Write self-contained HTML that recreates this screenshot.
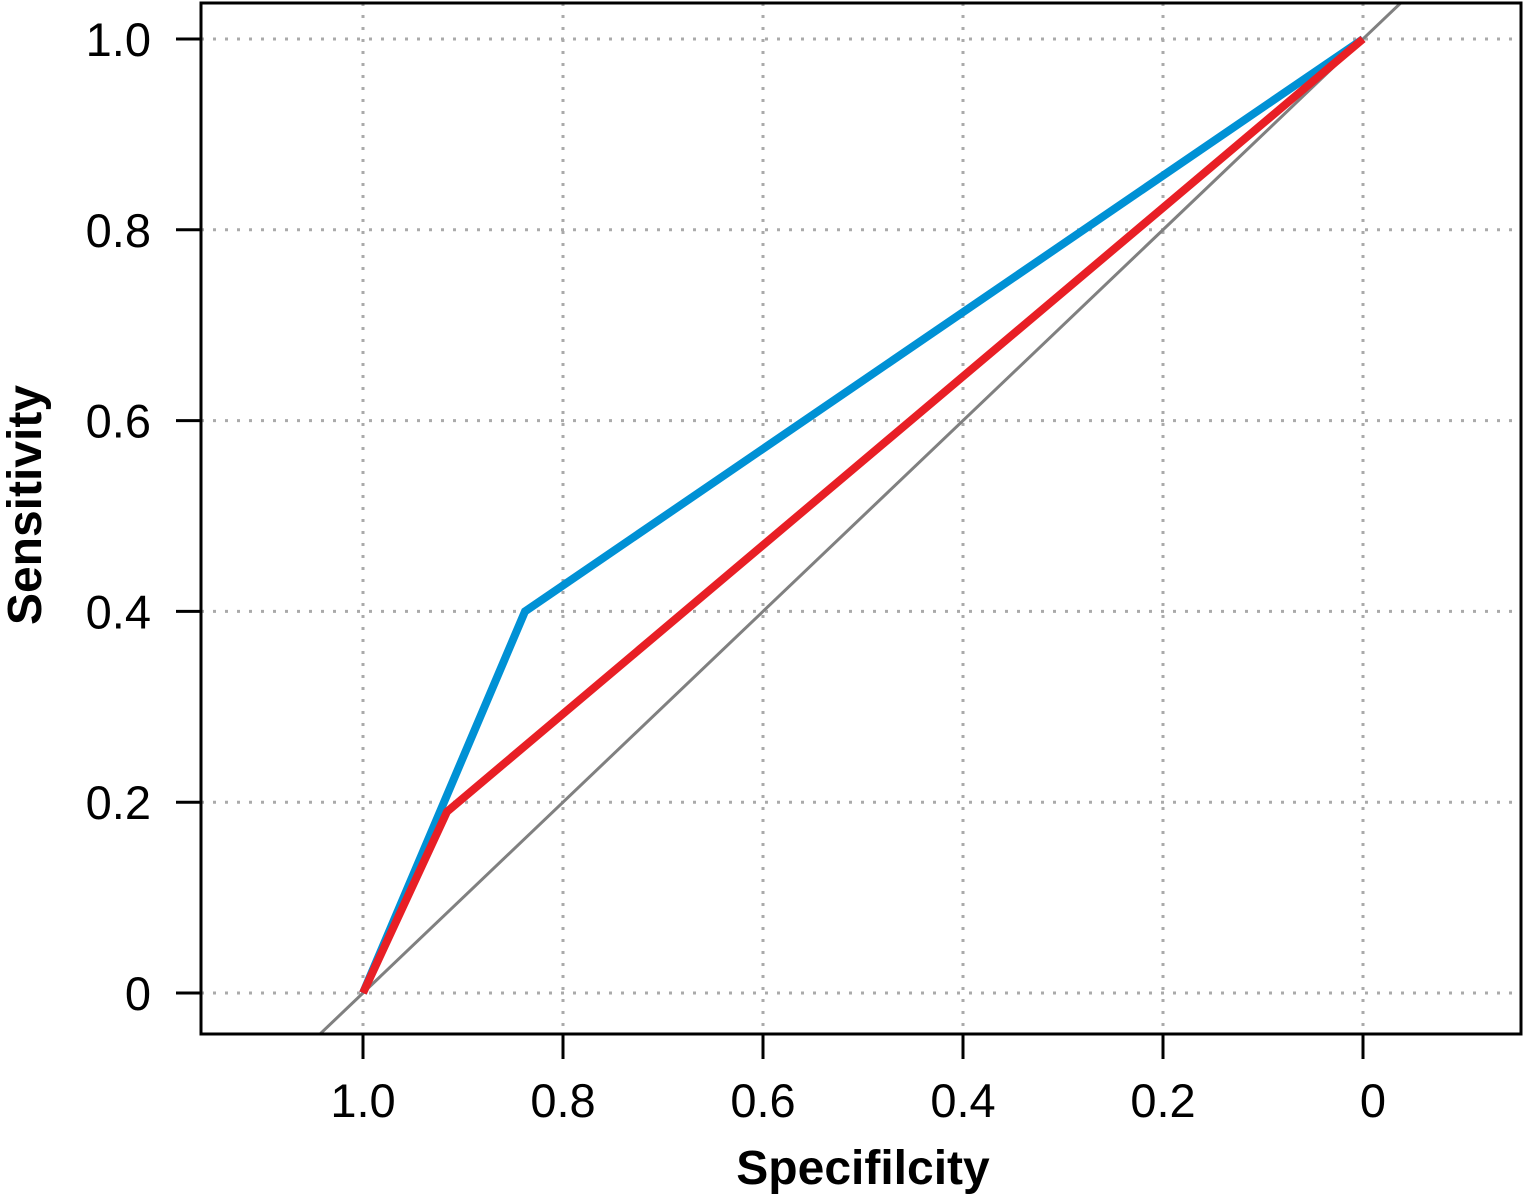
<!DOCTYPE html>
<html><head><meta charset="utf-8"><style>
html,body{margin:0;padding:0;background:#fff;}
svg text{font-family:"Liberation Sans","DejaVu Sans",sans-serif;}
</style></head><body>
<svg id="chart" width="1524" height="1196" xmlns="http://www.w3.org/2000/svg">
<defs><clipPath id="clip"><rect x="201" y="3" width="1320" height="1031"/></clipPath></defs>
<g id="grid"></g>
<g id="series" clip-path="url(#clip)"></g>
<rect x="201" y="3" width="1320" height="1031" fill="none" stroke="#000" stroke-width="3"/>
<g id="axes"></g>
<text x="863" y="1184" text-anchor="middle" font-size="48" font-weight="bold">Specifilcity</text>
<text transform="translate(41,505) rotate(-90)" text-anchor="middle" font-size="48" font-weight="bold">Sensitivity</text>
</svg>
<script>
const xTicks=[1.0,0.8,0.6,0.4,0.2,0];
const xTickLabels=["1.0","0.8","0.6","0.4","0.2","0"];
const yTicks=[0,0.2,0.4,0.6,0.8,1.0];
const yTickLabels=["0","0.2","0.4","0.6","0.8","1.0"];
const blueSpec=[1.0,0.838,0];
const blueSens=[0,0.40,1.0];
const redSpec=[1.0,0.916,0];
const redSens=[0,0.19,1.0];
const diagSpec=[1.2,-0.2];
const diagSens=[-0.2,1.2];
const NS="http://www.w3.org/2000/svg";
function sx(v){return 363+(1-v)*1000;}
function sy(v){return 993-v*954;}
function mk(t,a,p){const e=document.createElementNS(NS,t);for(const k in a)e.setAttribute(k,a[k]);p.appendChild(e);return e;}
const grid=document.getElementById('grid'),axes=document.getElementById('axes'),ser=document.getElementById('series');
xTicks.forEach((v,i)=>{
 const g=mk('line',{x1:sx(v),x2:sx(v),y1:3,y2:1034,stroke:'#aaa','stroke-width':3,'stroke-dasharray':'3 9'},grid);
 
 
 const t=mk('line',{x1:sx(v),x2:sx(v),y1:1034,y2:1059,stroke:'#000','stroke-width':3},axes);
 
 
 const l=mk('text',{x:sx(v)+ (v===0?10:0),y:1117,'text-anchor':'middle','font-size':47},axes);
 l.textContent=xTickLabels[i];
 
 
});
yTicks.forEach((v,i)=>{
 const g=mk('line',{x1:201,x2:1521,y1:sy(v),y2:sy(v),stroke:'#aaa','stroke-width':3,'stroke-dasharray':'3 9'},grid);
 
 
 const t=mk('line',{x1:176,x2:201,y1:sy(v),y2:sy(v),stroke:'#000','stroke-width':3},axes);
 
 
 const l=mk('text',{x:151,y:sy(v)+17,'text-anchor':'end','font-size':47},axes);
 l.textContent=yTickLabels[i];
 
 
});
function pts(a,b){return a.map((v,i)=>sx(v)+','+sy(b[i])).join(' ');}
const d=mk('polyline',{points:pts(diagSpec,diagSens),fill:'none',stroke:'#808080','stroke-width':3},ser);


const b=mk('polyline',{points:pts(blueSpec,blueSens),fill:'none',stroke:'#0091d5','stroke-width':8,'stroke-linejoin':'miter'},ser);


const r=mk('polyline',{points:pts(redSpec,redSens),fill:'none',stroke:'#e81f25','stroke-width':8,'stroke-linejoin':'miter'},ser);


</script>
</body></html>
